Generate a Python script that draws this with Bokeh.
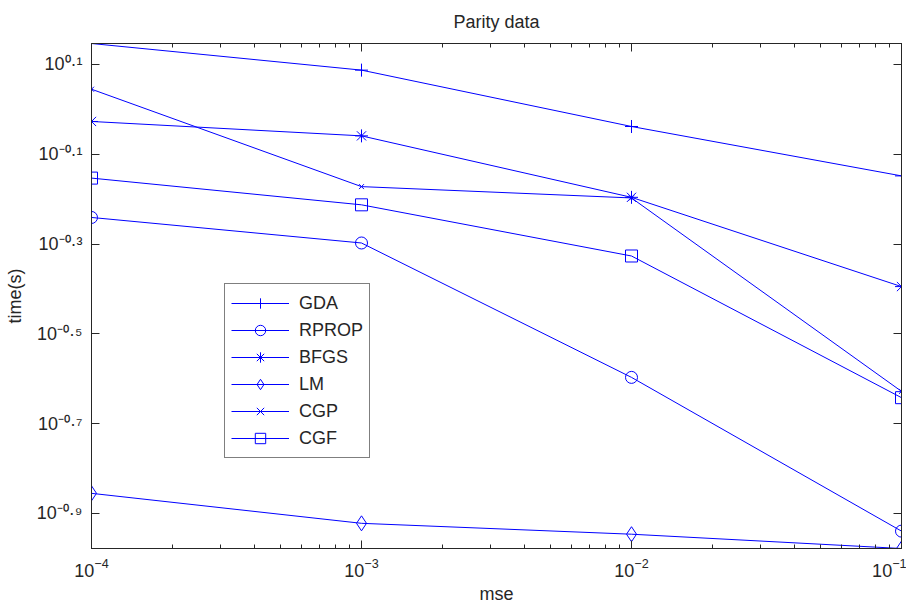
from bokeh.plotting import figure
from bokeh.models import (LogAxis, LogTicker, FixedTicker, CustomJSTickFormatter,
                          Range1d)
from bokeh.embed import file_html
from bokeh.resources import INLINE

# ---- data ----
mse = [1e-4, 1e-3, 1e-2, 1e-1]
GDA = [1.402, 1.223, 0.916, 0.711]
RPROP = [0.5745, 0.504, 0.253, 0.115]
BFGS = [0.940, 0.873, 0.637, 0.403]
LM = [0.1396, 0.1197, 0.1132, 0.1052]
CGP = [1.109, 0.673, 0.635, 0.2355]
CGF = [0.703, 0.613, 0.4715, 0.228]

series_names = ["GDA", "RPROP", "BFGS", "LM", "CGP", "CGF"]
series_values = [GDA, RPROP, BFGS, LM, CGP, CGF]
series_markers = ["cross", "circle", "asterisk", "diamond", "x", "square"]
marker_sizes = [13, 12, 13, 15, 7, 12]

y_tick_exponents = [0.1, -0.1, -0.3, -0.5, -0.7, -0.9]
y_tick_labels = ["10\u2070\u00b7\u00b9", "10\u207b\u2070\u00b7\u00b9", "10\u207b\u2070\u00b7\u00b3",
                 "10\u207b\u2070\u00b7\u2075", "10\u207b\u2070\u00b7\u2077", "10\u207b\u2070\u00b7\u2079"]
y_tick_values = [10 ** e for e in y_tick_exponents]

BLUE = "#0000ff"
AX = "#262626"
FONT = "Liberation Sans"
FS = "18px"

all_vals = [v for s in series_values for v in s]
p = figure(width=906, height=606, x_axis_type="log", y_axis_type="log",
           x_range=Range1d(min(mse), max(mse)), y_range=Range1d(min(all_vals), max(all_vals)),
           output_backend="svg", toolbar_location=None,
           min_border_left=91, min_border_right=5, min_border_top=43, min_border_bottom=58,
           title="Parity data")
p.grid.visible = False
p.background_fill_color = "white"
p.border_fill_color = "white"
p.outline_line_color = AX
p.title.align = "center"
p.title.vertical_align = "top"
p.title.text_font = FONT
p.title.text_font_size = FS
p.title.text_font_style = "normal"
p.title.text_color = AX
p.title.standoff = 20

for name, vals, mk, sz in zip(series_names, series_values, series_markers, marker_sizes):
    p.line(mse, vals, line_color=BLUE, line_width=1, legend_label=name)
    p.scatter(mse, vals, marker=mk, size=sz, line_color=BLUE, fill_color=None,
              line_width=1, legend_label=name)

yfmt = CustomJSTickFormatter(args=dict(tv=y_tick_values, tl=y_tick_labels), code="""
let best = 0, bd = Infinity;
for (let i = 0; i < tv.length; i++) {
  const d = Math.abs(Math.log10(tick) - Math.log10(tv[i]));
  if (d < bd) { bd = d; best = i; }
}
return tl[best];
""")
blank = CustomJSTickFormatter(code="return '';")

def style_axis(ax, labels=True):
    ax.axis_line_color = AX
    ax.major_tick_line_color = AX
    ax.minor_tick_line_color = AX
    ax.major_tick_in = 8
    ax.major_tick_out = 0
    ax.minor_tick_in = 4
    ax.minor_tick_out = 0
    ax.major_label_text_font = FONT
    ax.major_label_text_font_size = FS
    ax.major_label_text_color = AX
    ax.axis_label_text_font = FONT
    ax.axis_label_text_font_size = FS
    ax.axis_label_text_font_style = "normal"
    ax.axis_label_text_color = AX
    if not labels:
        ax.formatter = blank
        ax.major_label_text_font_size = "2px"
        ax.major_label_text_alpha = 0
        ax.major_label_standoff = 0
        ax.axis_label_standoff = 0

# bottom x axis
xa = p.xaxis[0]
xa.ticker = LogTicker(num_minor_ticks=10)
style_axis(xa)
xa.axis_label = "mse"
xa.major_label_standoff = 9
xa.axis_label_standoff = 4

# left y axis
ya = p.yaxis[0]
ya.ticker = FixedTicker(ticks=y_tick_values)
ya.formatter = yfmt
style_axis(ya)
ya.axis_label = "time(s)"
ya.major_label_standoff = 9
ya.axis_label_standoff = 9

# top and right axes (box with inward ticks)
top = LogAxis(ticker=LogTicker(num_minor_ticks=10))
style_axis(top, labels=False)
p.add_layout(top, "above")
right = LogAxis(ticker=FixedTicker(ticks=y_tick_values))
style_axis(right, labels=False)
p.add_layout(right, "right")

leg = p.legend[0]
leg.location = (133, 90)
leg.border_line_color = "black"
leg.border_line_width = 1
leg.background_fill_color = "white"
leg.background_fill_alpha = 1
leg.label_text_font = FONT
leg.label_text_font_size = FS
leg.label_text_color = AX
leg.glyph_width = 58
leg.glyph_height = 26
leg.label_height = 26
leg.label_standoff = 10
leg.spacing = 1
leg.padding = 6
leg.margin = 0

open("out.html", "w").write(file_html(p, INLINE))
